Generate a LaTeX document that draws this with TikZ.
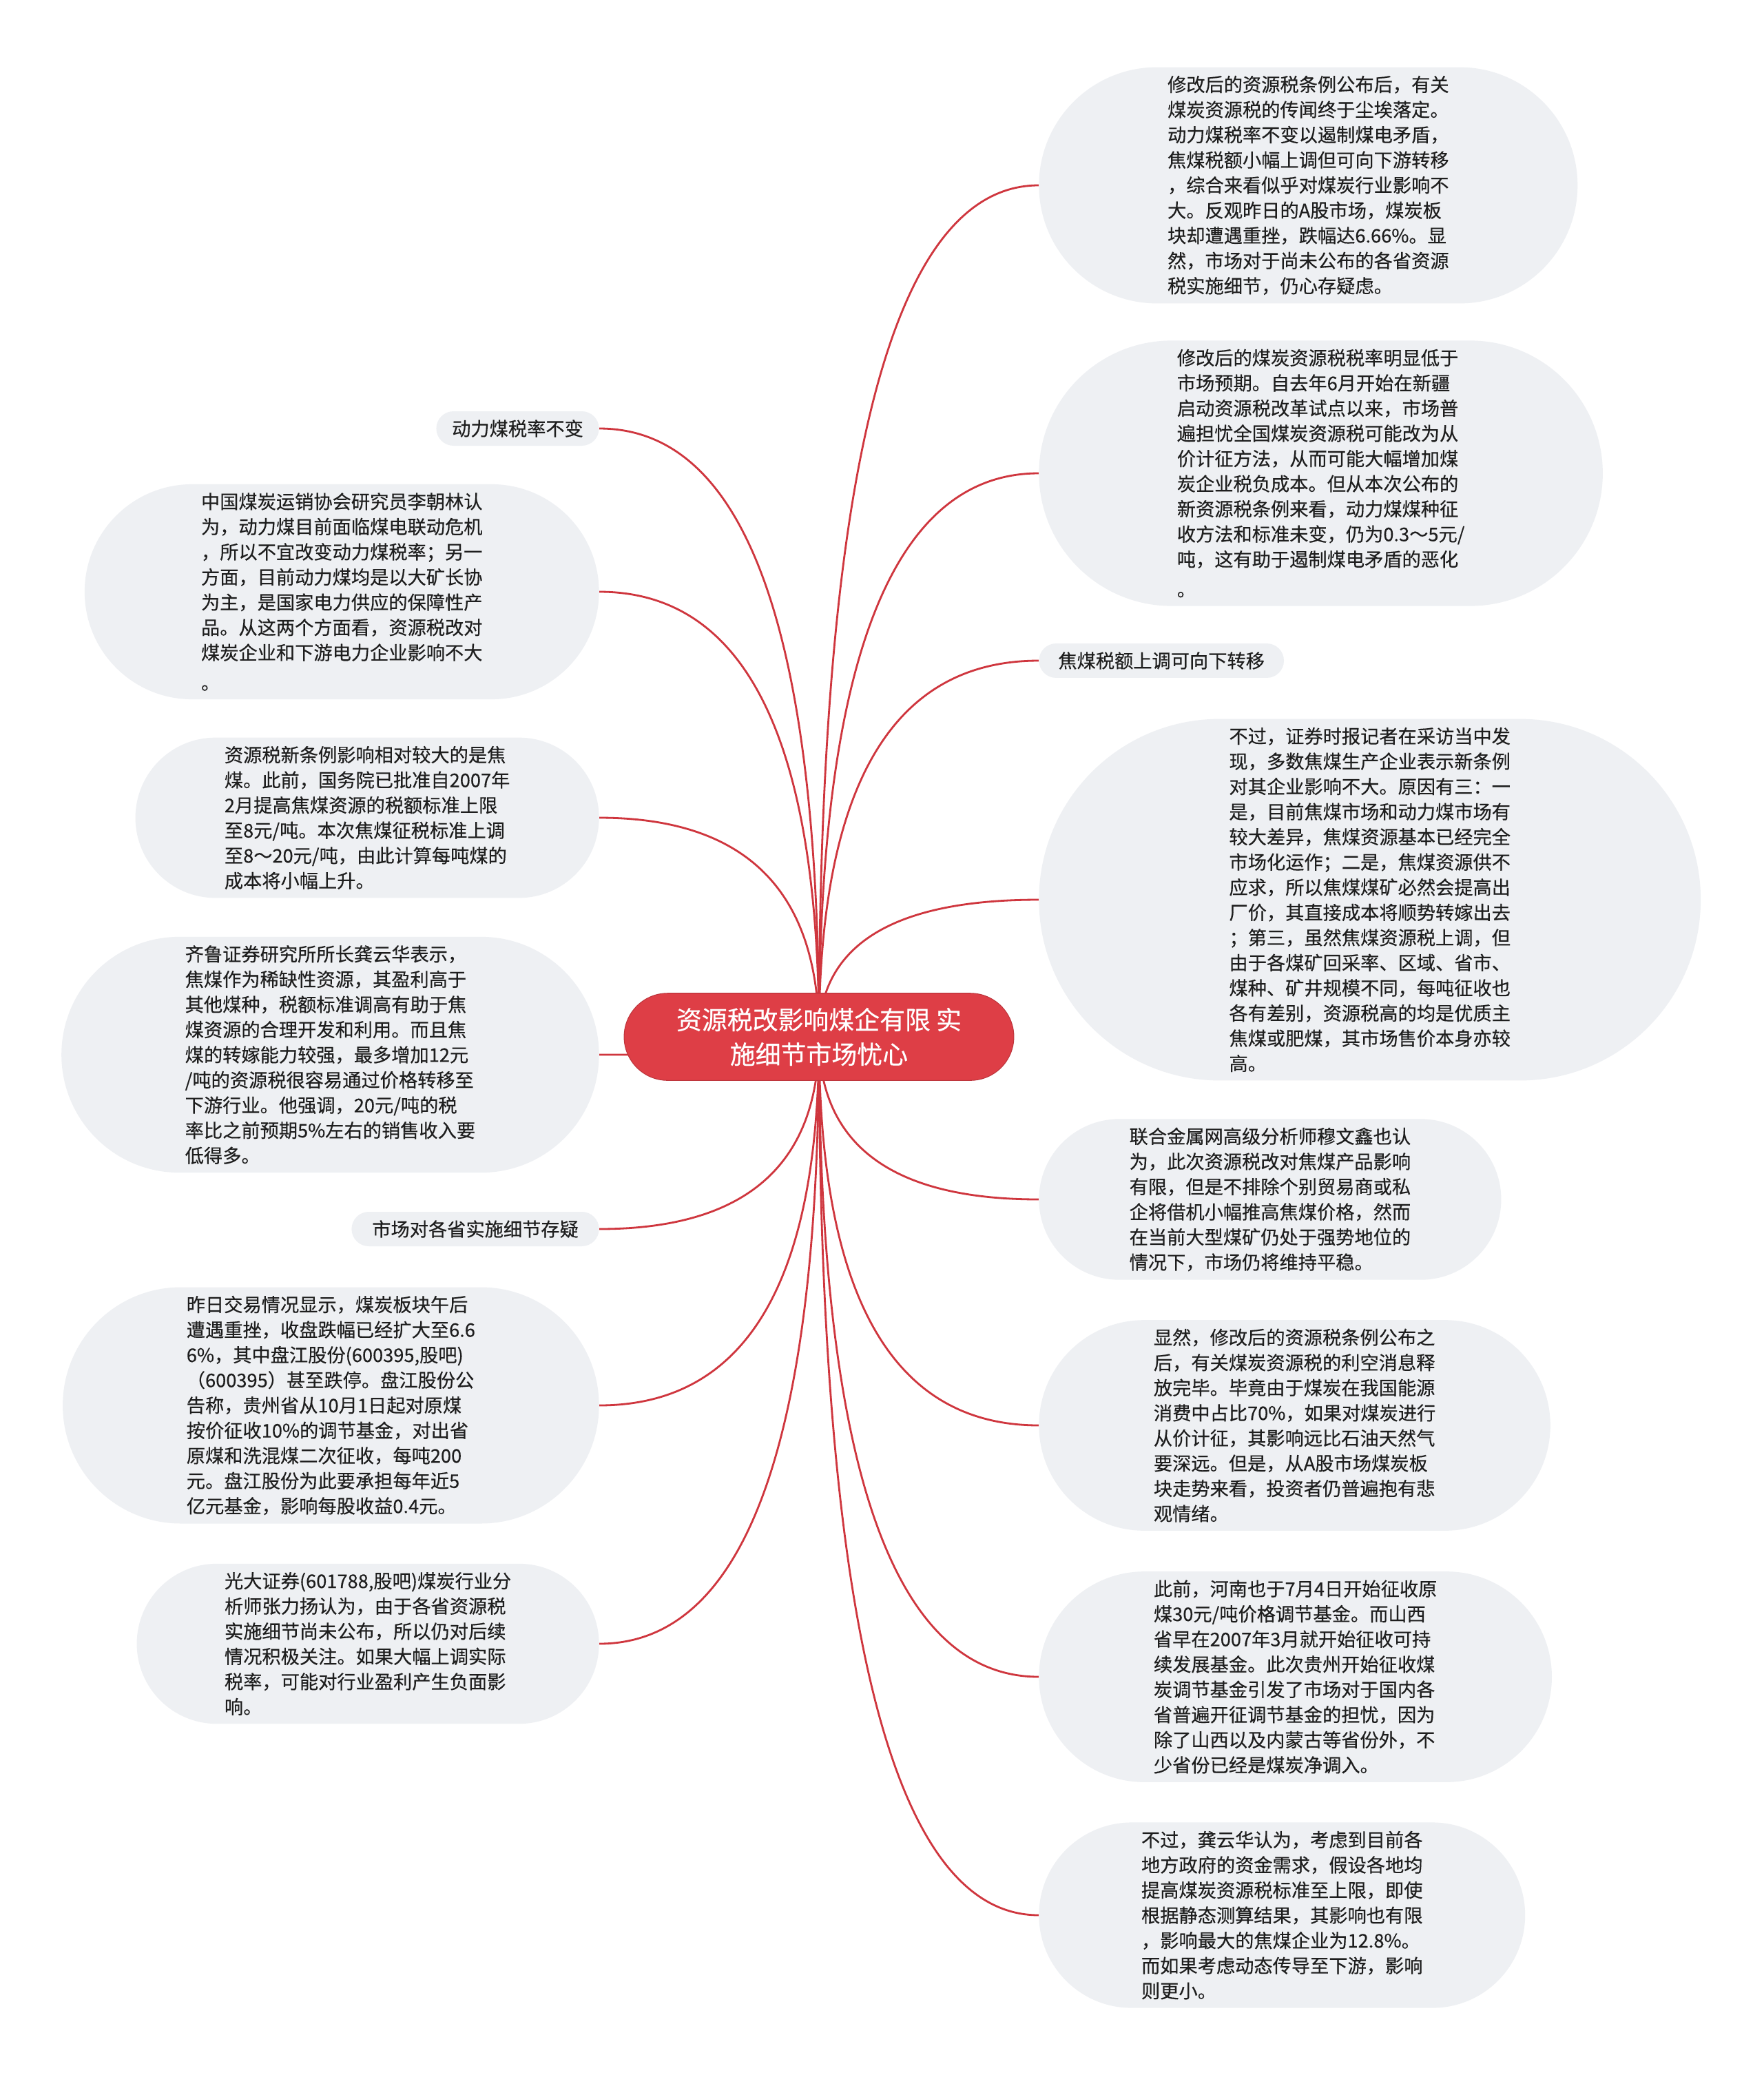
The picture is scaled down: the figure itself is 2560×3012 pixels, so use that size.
\documentclass[tikz,border=0pt]{standalone}
\usepackage{fontspec}
\setmainfont{Noto Sans CJK SC}[FakeBold=0.35]
\usetikzlibrary{calc, backgrounds, shapes.misc}
\definecolor{mapred}{HTML}{DE3E46}
\definecolor{mapline}{HTML}{CF363E}
\definecolor{leafgray}{HTML}{EEF0F3}
\definecolor{leaftext}{HTML}{1E1E1E}

\begin{document}
\begin{tikzpicture}[
    x=0.02cm,
    y=-0.02cm,
    font=\fontsize{15.5}{20.8}\selectfont,
    topic/.style={rounded rectangle, fill=mapred, draw=mapred!85!black, line width=0.6pt,
      text=white, align=center, inner xsep=34pt, inner ysep=12pt,
      font=\fontsize{21}{28.5}\selectfont},
    leaf/.style={rounded rectangle, fill=leafgray, text=leaftext, align=left,
      inner xsep=#1, inner ysep=7pt},
    leaf/.default=40pt,
    link/.style={draw=mapline, line width=1.6pt}
  ]
  \useasboundingbox (0,0) rectangle (2560,3012);

  % centre
  \node[topic] (root) at (1189,1505) {资源税改影响煤企有限 实\\施细节市场忧心};

  % right branch
  \node[leaf=45pt, anchor=west] (r1) at (1508,269) {修改后的资源税条例公布后，有关\\煤炭资源税的传闻终于尘埃落定。\\动力煤税率不变以遏制煤电矛盾，\\焦煤税额小幅上调但可向下游转移\\，综合来看似乎对煤炭行业影响不\\大。反观昨日的A股市场，煤炭板\\块却遭遇重挫，跌幅达6.66\%。显\\然，市场对于尚未公布的各省资源\\税实施细节，仍心存疑虑。};
  \node[leaf=43pt, anchor=west] (r2) at (1508,687) {修改后的煤炭资源税税率明显低于\\市场预期。自去年6月开始在新疆\\启动资源税改革试点以来，市场普\\遍担忧全国煤炭资源税可能改为从\\价计征方法，从而可能大幅增加煤\\炭企业税负成本。但从本次公布的\\新资源税条例来看，动力煤煤种征\\收方法和标准未变，仍为0.3～5元/\\吨，这有助于遏制煤电矛盾的恶化\\[4pt]。};
  \node[leaf=14pt, anchor=west] (r3) at (1508,959) {焦煤税额上调可向下转移};
  \node[leaf=53pt, anchor=west] (r4) at (1508,1306) {不过，证券时报记者在采访当中发\\现，多数焦煤生产企业表示新条例\\对其企业影响不大。原因有三：一\\是，目前焦煤市场和动力煤市场有\\较大差异，焦煤资源基本已经完全\\市场化运作；二是，焦煤资源供不\\应求，所以焦煤煤矿必然会提高出\\厂价，其直接成本将顺势转嫁出去\\；第三，虽然焦煤资源税上调，但\\由于各煤矿回采率、区域、省市、\\煤种、矿井规模不同，每吨征收也\\各有差别，资源税高的均是优质主\\焦煤或肥煤，其市场售价本身亦较\\高。};
  \node[leaf=38pt, anchor=west] (r5) at (1508,1741) {联合金属网高级分析师穆文鑫也认\\为，此次资源税改对焦煤产品影响\\有限，但是不排除个别贸易商或私\\企将借机小幅推高焦煤价格，然而\\在当前大型煤矿仍处于强势地位的\\情况下，市场仍将维持平稳。};
  \node[leaf=42pt, anchor=west] (r6) at (1508,2069) {显然，修改后的资源税条例公布之\\后，有关煤炭资源税的利空消息释\\放完毕。毕竟由于煤炭在我国能源\\消费中占比70\%，如果对煤炭进行\\从价计征，其影响远比石油天然气\\要深远。但是，从A股市场煤炭板\\块走势来看，投资者仍普遍抱有悲\\观情绪。};
  \node[leaf=42pt, anchor=west] (r7) at (1508,2434) {此前，河南也于7月4日开始征收原\\煤30元/吨价格调节基金。而山西\\省早在2007年3月就开始征收可持\\续发展基金。此次贵州开始征收煤\\炭调节基金引发了市场对于国内各\\省普遍开征调节基金的担忧，因为\\除了山西以及内蒙古等省份外，不\\少省份已经是煤炭净调入。};
  \node[leaf=40pt, anchor=west] (r8) at (1508,2780) {不过，龚云华认为，考虑到目前各\\地方政府的资金需求，假设各地均\\提高煤炭资源税标准至上限，即使\\根据静态测算结果，其影响也有限\\，影响最大的焦煤企业为12.8\%。\\而如果考虑动态传导至下游，影响\\则更小。};

  % left branch
  \node[leaf=11pt, anchor=east] (l1) at (870,622) {动力煤税率不变};
  \node[leaf=42pt, anchor=east] (l2) at (870,859) {中国煤炭运销协会研究员李朝林认\\为，动力煤目前面临煤电联动危机\\，所以不宜改变动力煤税率；另一\\方面，目前动力煤均是以大矿长协\\为主，是国家电力供应的保障性产\\品。从这两个方面看，资源税改对\\煤炭企业和下游电力企业影响不大\\[4pt]。};
  \node[leaf=37pt, anchor=east] (l3) at (870,1187) {资源税新条例影响相对较大的是焦\\煤。此前，国务院已批准自2007年\\2月提高焦煤资源的税额标准上限\\至8元/吨。本次焦煤征税标准上调\\至8～20元/吨，由此计算每吨煤的\\成本将小幅上升。};
  \node[leaf=41pt, anchor=east] (l4) at (870,1531) {齐鲁证券研究所所长龚云华表示，\\焦煤作为稀缺性资源，其盈利高于\\其他煤种，税额标准调高有助于焦\\煤资源的合理开发和利用。而且焦\\煤的转嫁能力较强，最多增加12元\\/吨的资源税很容易通过价格转移至\\下游行业。他强调，20元/吨的税\\率比之前预期5\%左右的销售收入要\\低得多。};
  \node[leaf=15pt, anchor=east] (l5) at (870,1784) {市场对各省实施细节存疑};
  \node[leaf=41pt, anchor=east] (l6) at (870,2040) {昨日交易情况显示，煤炭板块午后\\遭遇重挫，收盘跌幅已经扩大至6.6\\6\%，其中盘江股份(600395,股吧)\\（600395）甚至跌停。盘江股份公\\告称，贵州省从10月1日起对原煤\\按价征收10\%的调节基金，对出省\\原煤和洗混煤二次征收，每吨200\\元。盘江股份为此要承担每年近5\\亿元基金，影响每股收益0.4元。};
  \node[leaf=36pt, anchor=east] (l7) at (870,2386) {光大证券(601788,股吧)煤炭行业分\\析师张力扬认为，由于各省资源税\\实施细节尚未公布，所以仍对后续\\情况积极关注。如果大幅上调实际\\税率，可能对行业盈利产生负面影\\响。};

  % connectors
  \begin{scope}[on background layer]
    \fill[white] (0,0) rectangle (2560,3012);
    \foreach \nd/\sd in {r1/west, r2/west, r3/west, r4/west, r5/west, r6/west, r7/west, r8/west,
        l1/east, l2/east, l3/east, l4/east, l5/east, l6/east, l7/east}
      \draw[link] (root.center)
        .. controls ($(root.center)!2/3!(root.center |- \nd.\sd)$)
        and ($(\nd.\sd)!2/3!(root.center |- \nd.\sd)$) .. (\nd.\sd);
  \end{scope}
\end{tikzpicture}
\end{document}
